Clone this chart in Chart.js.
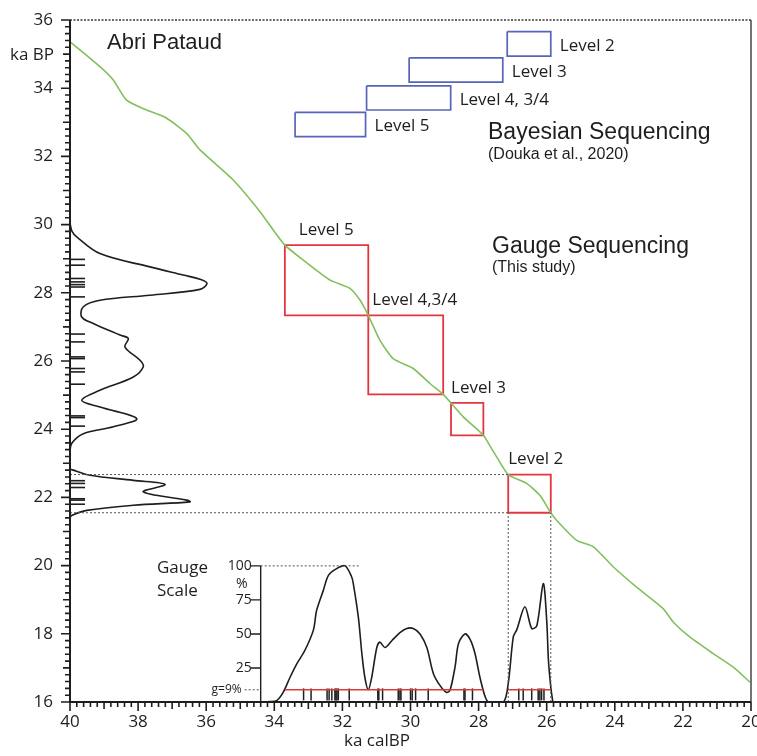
<!DOCTYPE html>
<html lang="en">
<head>
<meta charset="UTF-8">
<title>Abri Pataud - Gauge Sequencing</title>
<script src="https://cdn.jsdelivr.net/npm/chart.js@4"></script>
<style>
  html, body { margin: 0; padding: 0; background: #fff; overflow: hidden; }
  #wrap { width: 757px; height: 756px; position: relative; }
</style>
</head>
<body>
<div id="wrap"><canvas id="chart"></canvas></div>
<script>
// calibration curve: ka calBP -> ka BP
const calX = [40.00, 39.95, 39.12, 38.73, 38.34, 37.75, 37.16, 36.57, 36.18, 35.20, 34.42, 34.03, 33.69,
  33.15, 32.36, 31.78, 31.48, 31.24, 30.90, 30.51, 29.92, 29.43, 29.04, 28.45, 27.86, 27.62, 27.47,
  27.13, 26.59, 26.20, 25.88, 25.71, 25.12, 24.63, 24.04, 23.36, 22.58, 22.28, 21.79, 21.11, 20.52, 20.03];
const calY = [35.36, 35.32, 34.63, 34.24, 33.65, 33.36, 33.12, 32.67, 32.19, 31.30, 30.38, 29.84, 29.40,
  28.96, 28.37, 28.13, 27.78, 27.34, 26.61, 26.07, 25.78, 25.34, 25.02, 24.36, 23.82, 23.43, 23.19,
  22.67, 22.41, 22.06, 21.55, 21.33, 20.74, 20.55, 19.96, 19.37, 18.74, 18.34, 17.90, 17.42, 17.02, 16.58];

// summed probability of the 14C ages (relative density, drawn along the BP axis)
const densY = [30.04, 29.80, 29.64, 29.15, 28.76, 28.52, 28.40, 28.28, 28.10, 27.93, 27.78, 27.59, 27.29,
  27.10, 26.76, 26.66, 26.41, 26.02, 25.83, 25.53, 25.14, 24.85, 24.65, 24.31, 24.07, 23.87, 23.58, 23.30,
  22.85, 22.80, 22.65, 22.50, 22.38, 22.16, 21.92, 21.87, 21.77, 21.62, 21.47, 21.40];
const densV = [0, 0.015, 0.049, 0.22, 0.587, 0.832, 0.954, 1.006, 0.954, 0.587, 0.22, 0.098, 0.086,
  0.171, 0.367, 0.428, 0.404, 0.514, 0.538, 0.465, 0.22, 0.086, 0.22, 0.49, 0.318, 0.098, 0.012, 0,
  0, 0.024, 0.147, 0.465, 0.698, 0.538, 0.857, 0.881, 0.465, 0.123, 0.012, 0];

// individual 14C ages (ka BP) and calibrated medians (ka calBP)
const agesBP = [28.98, 28.81, 28.42, 28.32, 28.24, 28.17, 27.88, 26.79, 26.56, 26.12, 26.07, 25.78, 25.68,
  25.32, 24.39, 24.34, 24.09, 22.49, 22.41, 22.29, 21.96, 21.92, 21.80];
const agesCal = [33.14, 32.92, 32.45, 32.39, 32.31, 32.22, 32.19, 32.16, 32.12, 31.80, 30.96, 30.93, 30.82,
  30.36, 30.31, 30.28, 30.00, 29.95, 29.85, 29.48, 28.43, 28.40, 28.18, 26.82, 26.69, 26.44, 26.25, 26.20,
  26.15, 26.08];

// gauge scale (%) against ka calBP
const gaugeX = [34.40, 34.13, 33.93, 33.74, 33.54, 33.34, 33.10, 32.85, 32.76, 32.56, 32.41, 32.17, 31.92,
  31.73, 31.68, 31.53, 31.43, 31.34, 31.24, 31.14, 30.99, 30.90, 30.75, 30.55, 30.31, 30.11, 29.92, 29.72,
  29.52, 29.33, 29.13, 28.94, 28.84, 28.69, 28.59, 28.40, 28.25, 28.11, 27.96, 27.81, 27.71, 27.27, 27.13,
  26.98, 26.88, 26.64, 26.44, 26.29, 26.10, 26.00, 25.95, 25.88, 25.82];
const gaugeV = [0, 0.3, 1, 7, 18, 28, 38, 53, 67, 82, 93, 98, 100,
  92, 87, 62, 36, 18, 9, 18, 40, 44, 40, 45, 51, 54, 54, 50,
  40, 21, 12, 7, 8.6, 26, 43, 50, 46, 36, 18, 4, 0, 0, 13.5,
  48, 53, 70, 54, 56, 87, 60, 31, 11, 0];
const gLevel = 9;
const gAboveFrom = [33.69, 27.13];
const gAboveTo = [27.86, 25.88];

// Bayesian sequencing (Douka et al., 2020)
const bayesLevels = ['Level 2', 'Level 3', 'Level 4, 3/4', 'Level 5'];
const bayesCalOld = [27.16, 30.04, 31.29, 33.39];
const bayesCalYoung = [25.88, 27.29, 28.82, 31.32];
const bayesBPOld = [35.66, 34.89, 34.07, 33.29];
const bayesBPYoung = [34.94, 34.18, 33.36, 32.58];

// gauge sequencing (this study)
const gaugeLevels = ['Level 5', 'Level 4,3/4', 'Level 3', 'Level 2'];
const gaugeCalOld = [33.69, 31.24, 28.81, 27.13];
const gaugeCalYoung = [31.24, 29.04, 27.86, 25.88];
const gaugeBPOld = [29.40, 27.34, 24.77, 22.67];
const gaugeBPYoung = [27.34, 25.02, 23.82, 21.55];

const xTicks = [20, 22, 24, 26, 28, 30, 32, 34, 36, 38, 40];
const yTicks = [16, 18, 20, 22, 24, 26, 28, 30, 32, 34, 36];
const gaugeTicks = [25, 50, 75, 100];

const GREEN = '#82c05e', RED = '#e4363f', BLUE = '#5565b9', INK = '#1e1e1e';
const SANS = '"Liberation Sans", Arial, sans-serif';
const HUMAN = '"Open Sans", "Noto Sans", sans-serif';
const PLOT_RIGHT = 751;

function box(x0, x1, y0, y1) {
  return [{x: x0, y: y0}, {x: x1, y: y0}, {x: x1, y: y1}, {x: x0, y: y1}, {x: x0, y: y0}];
}
function lineSet(data, color, width, extra) {
  return Object.assign({data, borderColor: color, borderWidth: width, showLine: true,
    pointRadius: 0, fill: false, tension: 0}, extra || {});
}
function noPad(s) {
  s.paddingLeft = 0; s.paddingRight = 0; s.paddingTop = 0; s.paddingBottom = 0;
}

const datasets = [];
// dotted guides for gauge Level 2
const l2 = gaugeLevels.indexOf('Level 2');
const dot = {borderDash: [2, 2]};
[gaugeBPOld[l2], gaugeBPYoung[l2]].forEach(v => {
  datasets.push(lineSet([{x: 40, y: v}, {x: gaugeCalOld[l2], y: v}], '#555', 1, dot));
});
[gaugeCalOld[l2], gaugeCalYoung[l2]].forEach(v => {
  datasets.push(lineSet([{x: v, y: 16}, {x: v, y: gaugeBPYoung[l2]}], '#555', 1, dot));
});
datasets.push(lineSet(calX.map((v, i) => ({x: v, y: calY[i]})), GREEN, 1.6, {tension: 0.2}));
bayesLevels.forEach((n, i) => {
  datasets.push(lineSet(box(bayesCalOld[i], bayesCalYoung[i], bayesBPOld[i], bayesBPYoung[i]), BLUE, 1.7));
});
gaugeLevels.forEach((n, i) => {
  datasets.push(lineSet(box(gaugeCalOld[i], gaugeCalYoung[i], gaugeBPOld[i], gaugeBPYoung[i]), RED, 1.8));
});
datasets.push(lineSet(densV.map((v, i) => ({x: v, y: densY[i]})), INK, 1.6,
  {xAxisID: 'xD', tension: 0.35}));
datasets.push({data: agesBP.map(v => ({x: 0.055, y: v})), xAxisID: 'xD', showLine: false,
  pointStyle: 'line', pointRadius: 7.5, borderColor: INK, borderWidth: 1.6, rotation: 0});
// gauge inset
const gLine = [];
gAboveFrom.forEach((v, i) => {
  gLine.push({x: v, y: gLevel}, {x: gAboveTo[i], y: gLevel}, {x: gAboveTo[i] - 0.1, y: null});
});
datasets.push(lineSet(gLine, RED, 1.3, {yAxisID: 'yG', spanGaps: false}));
datasets.push(lineSet([{x: gaugeX[0], y: 100}, {x: 31.48, y: 100}], '#555', 1, Object.assign({yAxisID: 'yG'}, dot)));
datasets.push({data: agesCal.map(v => ({x: v, y: 5.6})), yAxisID: 'yG', showLine: false,
  pointStyle: 'line', pointRadius: 6, borderColor: INK, borderWidth: 1.5, rotation: 90});
datasets.push(lineSet(gaugeX.map((v, i) => ({x: v, y: gaugeV[i]})), INK, 1.6,
  {yAxisID: 'yG', tension: 0.3}));

function txt(ctx, s, px, py, font, align, color) {
  ctx.font = font;
  ctx.fillStyle = color || INK;
  ctx.textAlign = align || 'left';
  ctx.textBaseline = 'middle';
  ctx.fillText(s, px, py);
}

const decor = {
  id: 'decor',
  afterDraw(chart) {
    const {ctx, chartArea: a} = chart;
    const {x, y, yG} = chart.scales;
    ctx.save();
    // frame
    ctx.strokeStyle = '#3a3a3a';
    ctx.lineWidth = 1.4;
    ctx.setLineDash([2, 1.5]);
    ctx.beginPath(); ctx.moveTo(a.left, a.top); ctx.lineTo(a.right, a.top); ctx.stroke();
    ctx.setLineDash([]);
    ctx.beginPath(); ctx.moveTo(a.right, a.top); ctx.lineTo(a.right, a.bottom); ctx.stroke();
    ctx.strokeStyle = INK;
    ctx.lineWidth = 2;
    ctx.beginPath();
    ctx.moveTo(a.left, a.top); ctx.lineTo(a.left, a.bottom); ctx.lineTo(a.right, a.bottom);
    ctx.stroke();
    // minor / major ticks every 0.2 ka
    ctx.lineWidth = 1.6;
    ctx.beginPath();
    for (let i = 0; i <= 100; i++) {
      const len = i % 10 === 0 ? 9 : (i % 5 === 0 ? 7 : 5);
      const py = y.getPixelForValue(16 + i * 0.2);
      ctx.moveTo(a.left - len, py); ctx.lineTo(a.left, py);
      const px = x.getPixelForValue(20 + i * 0.2);
      ctx.moveTo(px, a.bottom); ctx.lineTo(px, a.bottom + len);
    }
    ctx.stroke();
    // x tick labels (drawn here so the last one may run off the page as in the original)
    xTicks.forEach(v => txt(ctx, String(v), x.getPixelForValue(v), a.bottom + 20, '17px ' + HUMAN, 'center'));

    // gauge scale axis
    const gx = x.getPixelForValue(gaugeX[0]);
    ctx.lineWidth = 1.4;
    ctx.beginPath();
    ctx.moveTo(gx, yG.getPixelForValue(0)); ctx.lineTo(gx, yG.getPixelForValue(100));
    gaugeTicks.forEach(t => {
      const py = yG.getPixelForValue(t);
      ctx.moveTo(gx - 10, py); ctx.lineTo(gx, py);
    });
    ctx.stroke();
    gaugeTicks.forEach(t => txt(ctx, String(t), gx - 9, yG.getPixelForValue(t), '14px ' + HUMAN, 'right'));
    txt(ctx, '%', gx - 19, yG.getPixelForValue(87), '14px ' + HUMAN, 'center');
    const g9 = yG.getPixelForValue(gLevel);
    ctx.strokeStyle = '#555'; ctx.lineWidth = 1; ctx.setLineDash([2, 2]);
    ctx.beginPath(); ctx.moveTo(gx - 16, g9); ctx.lineTo(gx, g9); ctx.stroke();
    ctx.setLineDash([]);
    txt(ctx, 'g=' + gLevel + '%', gx - 19, g9, '12px ' + HUMAN, 'right');

    // level labels
    bayesLevels.forEach((n, i) => {
      const px = x.getPixelForValue(bayesCalYoung[i]) + 9;
      const py = (y.getPixelForValue(bayesBPOld[i]) + y.getPixelForValue(bayesBPYoung[i])) / 2 + 2;
      txt(ctx, n, px, py, '17px ' + HUMAN, 'left');
    });
    const dx = [14, 4, 0, 0];
    gaugeLevels.forEach((n, i) => {
      const px = x.getPixelForValue(gaugeCalOld[i]) + dx[i];
      const py = y.getPixelForValue(gaugeBPOld[i]) - 15;
      txt(ctx, n, px, py, '17px ' + HUMAN, 'left');
    });

    // titles
    txt(ctx, 'Abri Pataud', 107, 43, '22px ' + SANS);
    txt(ctx, 'ka BP', 10, 55, '17px ' + HUMAN);
    txt(ctx, 'Bayesian Sequencing', 488, 133, '23px ' + SANS);
    txt(ctx, '(Douka et al., 2020)', 488, 155, '16px ' + SANS);
    txt(ctx, 'Gauge Sequencing', 492, 247, '23px ' + SANS);
    txt(ctx, '(This study)', 492, 268, '16px ' + SANS);
    txt(ctx, 'Gauge', 157, 568, '17px ' + HUMAN);
    txt(ctx, 'Scale', 157, 591, '17px ' + HUMAN);
    txt(ctx, 'ka calBP', 377, 741, '17px ' + HUMAN, 'center');
    ctx.restore();
  }
};

const chart = new Chart(document.getElementById('chart'), {
  type: 'scatter',
  data: {datasets},
  options: {
    responsive: true,
    maintainAspectRatio: false,
    animation: false,
    layout: {padding: {top: 20, right: 6, left: 0, bottom: 0}},
    plugins: {legend: {display: false}, tooltip: {enabled: false}},
    scales: {
      x: {
        type: 'linear', position: 'bottom', min: 20, max: 40, reverse: true,
        afterFit: s => { s.height = 54; noPad(s); },
        ticks: {display: false},
        grid: {display: false},
        border: {display: false}
      },
      y: {
        type: 'linear', position: 'left', min: 16, max: 36,
        afterBuildTicks: s => { s.ticks = yTicks.map(v => ({value: v})); },
        afterFit: s => { s.width = 70; noPad(s); },
        ticks: {autoSkip: false, padding: 9, color: INK, font: {family: HUMAN, size: 17}},
        grid: {drawOnChartArea: false, tickLength: 8, tickColor: 'rgba(0,0,0,0)'},
        border: {display: false}
      },
      xD: {type: 'linear', display: false, min: 0, max: 5, afterFit: noPad},
      yG: {type: 'linear', display: false, min: 0, max: 501, afterFit: noPad}
    }
  },
  plugins: [decor]
});

// keep the plot frame at the same place as in the original figure
const extra = PLOT_RIGHT - chart.chartArea.right;
if (Math.abs(extra) > 0.5) {
  document.getElementById('wrap').style.width = (757 + extra) + 'px';
  chart.resize();
}
</script>
</body>
</html>
